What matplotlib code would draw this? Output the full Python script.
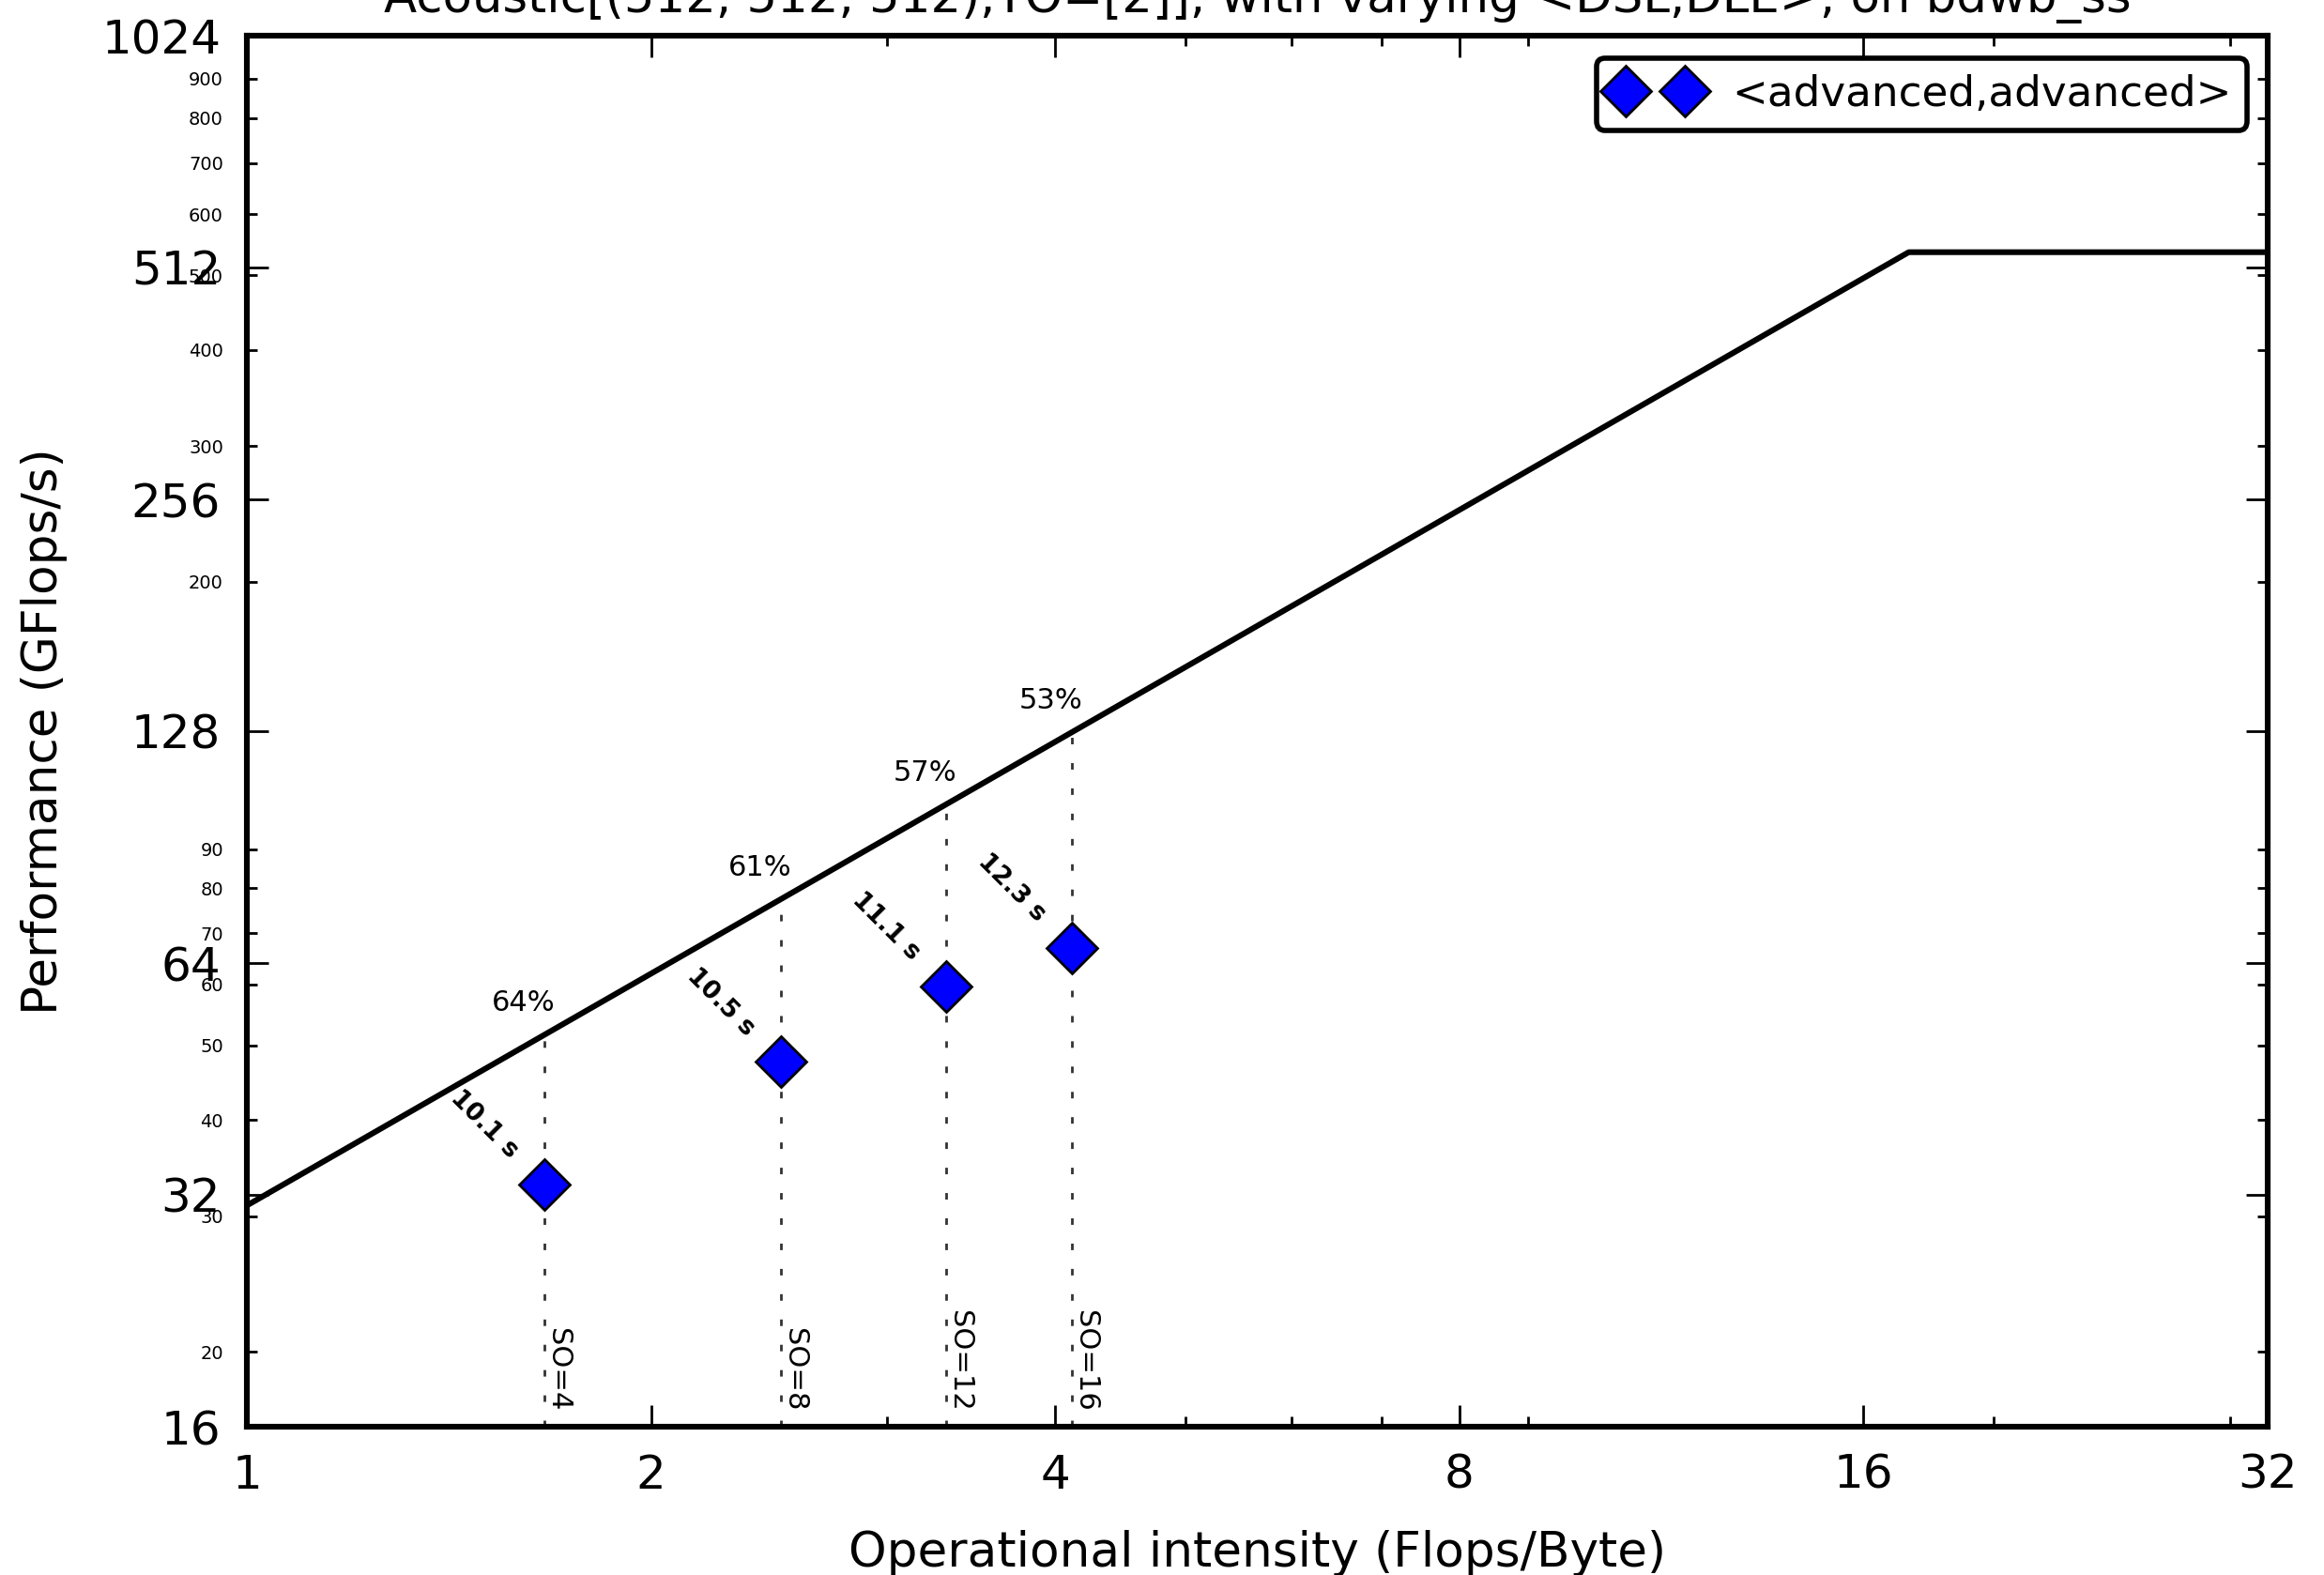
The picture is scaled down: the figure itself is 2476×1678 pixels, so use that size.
import matplotlib
matplotlib.use("Agg")
import matplotlib.pyplot as plt
from matplotlib.ticker import FixedLocator, LogLocator, FuncFormatter, NullFormatter
import numpy as np

# ---- data ----
bandwidth = 31.0          # GB/s (roofline slope)
peak = 536.0              # GFlops/s (roofline flat part)
roof_x = [1, 17.29, 32]

op_intensity = [1.666, 2.50, 3.318, 4.116]
performance = [33.0, 47.6, 59.7, 67.0]
so_labels = ["SO=4", "SO=8", "SO=12", "SO=16"]
pct_labels = ["64%", "61%", "57%", "53%"]
time_labels = ["10.1 s", "10.5 s", "11.1 s", "12.3 s"]
legend_label = "<advanced,advanced>"
title = "Acoustic[(512, 512, 512),TO=[2]], with varying <DSL,DLE>, on bdwb_ss"

x_major = [1, 2, 4, 8, 16, 32]
y_major = [16, 32, 64, 128, 256, 512, 1024]

plt.rcParams['font.family'] = ['DejaVu Sans']

fig = plt.figure(figsize=(12.38, 8.39), dpi=200)
ax = fig.add_axes([263/2476, 1 - 1520/1678, (2416-263)/2476, (1520-38)/1678])

ax.set_xscale('log', base=2)
ax.set_yscale('log', base=2)
ax.set_xlim(1, 32)
ax.set_ylim(16, 1024)

def roof(x):
    return min(bandwidth * x, peak)

ax.plot(roof_x, [roof(v) for v in roof_x], color='k', lw=2.2, zorder=3)

ax.plot(op_intensity, performance, linestyle='none', marker='D', ms=13.5,
        mfc='#0000ff', mec='k', mew=1.0, label=legend_label, zorder=5)

for xi, yi, so, pc, tl in zip(op_intensity, performance, so_labels, pct_labels, time_labels):
    r = roof(xi)
    ax.plot([xi, xi], [16, r], color='#333333', lw=1.0, linestyle=(0, (2.5, 7.2)), zorder=2)
    ax.annotate(pc, (xi, r), xytext=(-8, 9), textcoords='offset points',
                ha='center', va='baseline', fontsize=11)
    ax.annotate(tl, (xi, yi), xytext=(-23, 23), textcoords='offset points',
                ha='center', va='center', rotation=-45, fontsize=9.5, fontweight='bold')
    ax.annotate(so, (xi, 16), xytext=(0, 6), textcoords='offset points',
                ha='left', va='bottom', rotation=270, fontsize=11)

ax.xaxis.set_major_locator(FixedLocator(x_major))
ax.xaxis.set_major_formatter(FuncFormatter(lambda v, p: "%d" % round(v)))
ax.xaxis.set_minor_locator(LogLocator(base=10, subs=np.arange(2, 10)))
ax.xaxis.set_minor_formatter(NullFormatter())

ax.yaxis.set_major_locator(FixedLocator(y_major))
ax.yaxis.set_major_formatter(FuncFormatter(lambda v, p: "%d" % round(v)))
ax.yaxis.set_minor_locator(LogLocator(base=10, subs=np.arange(2, 10)))
ax.yaxis.set_minor_formatter(FuncFormatter(lambda v, p: "%d" % round(v)))

ax.tick_params(which='both', direction='in', top=True, right=True, width=1.0)
ax.tick_params(which='major', length=8.4, labelsize=18, pad=10)
ax.tick_params(which='minor', length=3.8, labelsize=7, pad=9)
ax.tick_params(axis='x', which='major', pad=10)

for s in ax.spines.values():
    s.set_linewidth(2.2)

ax.set_xlabel("Operational intensity (Flops/Byte)", fontsize=18.6)
ax.set_ylabel("Performance (GFlops/s)", fontsize=18.6)
ax.xaxis.set_label_coords(0.5, -0.0742)
ax.yaxis.set_label_coords(-0.0886, 0.5)

ax.set_title(title, fontsize=18.5, pad=9)

leg = ax.legend(loc='upper right', bbox_to_anchor=(0.9898, 0.9838), borderaxespad=0,
                numpoints=2, fancybox=True, fontsize=16.3, framealpha=1,
                borderpad=0.37, handlelength=2.0, handletextpad=0.8)
leg.get_frame().set_edgecolor('k')
leg.get_frame().set_linewidth(2.0)

fig.savefig("out.png", dpi=200)
